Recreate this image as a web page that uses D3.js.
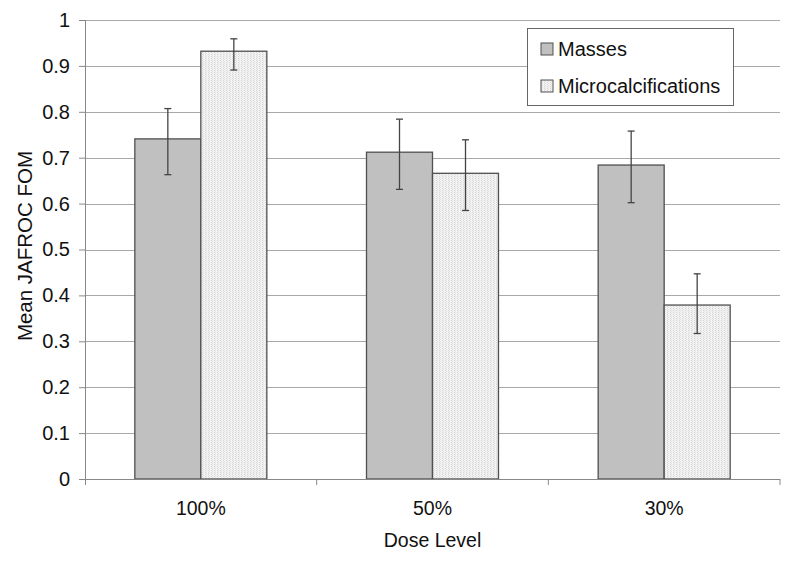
<!DOCTYPE html>
<html>
<head>
<meta charset="utf-8">
<script src="https://cdn.jsdelivr.net/npm/d3@7"></script>
<style>
  body { margin: 0; background: #fff; }
  text { font-family: "Liberation Sans", Arial, sans-serif; fill: #111; }
</style>
</head>
<body>
<div id="chart"></div>
<script>
var doseLevels = ['100%', '50%', '30%'];
var seriesNames = ['Masses', 'Microcalcifications'];
var massesMean = [0.741, 0.712, 0.684];
var massesLow = [0.663, 0.631, 0.602];
var massesHigh = [0.807, 0.784, 0.758];
var microMean = [0.932, 0.666, 0.379];
var microLow = [0.891, 0.585, 0.317];
var microHigh = [0.959, 0.739, 0.447];
var yTicks = [0, 0.1, 0.2, 0.3, 0.4, 0.5, 0.6, 0.7, 0.8, 0.9, 1];

var w = 800
  , h = 562
  , plotLeft = 85
  , plotRight = 780
  , plotTop = 20
  , plotBottom = 479
  , fs = '19.5px'
  ;

var svg = d3.select('#chart').append('svg')
            .attr('width', w).attr('height', h);

// dotted fill for microcalcifications
var pat = svg.append('defs').append('pattern')
  .attr('id', 'dots').attr('patternUnits', 'userSpaceOnUse')
  .attr('width', 3).attr('height', 2);
pat.append('rect').attr('width', 3).attr('height', 2).attr('fill', '#f3f3f3');
pat.append('rect').attr('x', 1).attr('width', 1).attr('height', 1).attr('fill', '#d4d4d4');
pat.append('rect').attr('x', 2).attr('y', 1).attr('width', 1).attr('height', 1).attr('fill', '#e2e2e2');

var y = d3.scaleLinear().domain([0, 1]).range([plotBottom, plotTop]);
var x0 = d3.scaleBand().domain(doseLevels).range([plotLeft, plotRight]);
var x1 = d3.scaleBand().domain(seriesNames).range([0, x0.bandwidth()])
           .paddingInner(0).paddingOuter(0.755);

var rows = [];
doseLevels.forEach(function (d, i) {
  rows.push({ dose: d, s: 'Masses', v: massesMean[i], lo: massesLow[i], hi: massesHigh[i] });
  rows.push({ dose: d, s: 'Microcalcifications', v: microMean[i], lo: microLow[i], hi: microHigh[i] });
});

function cx(d) { return x0(d.dose) + x1(d.s) + x1.bandwidth() / 2; }

// gridlines
svg.append('g').selectAll('line').data(yTicks.filter(function (t) { return t > 0; }))
  .enter().append('line')
  .attr('x1', plotLeft).attr('x2', plotRight)
  .attr('y1', function (d) { return Math.round(y(d)) + 0.5; })
  .attr('y2', function (d) { return Math.round(y(d)) + 0.5; })
  .attr('stroke', '#a8a8a8').attr('stroke-width', 1.2);

// bars
svg.append('g').selectAll('rect').data(rows)
  .enter().append('rect')
  .attr('x', function (d) { return x0(d.dose) + x1(d.s); })
  .attr('y', function (d) { return y(d.v); })
  .attr('width', x1.bandwidth())
  .attr('height', function (d) { return y(0) - y(d.v); })
  .attr('fill', function (d) { return d.s === 'Masses' ? '#c0c0c0' : 'url(#dots)'; })
  .attr('stroke', '#505050').attr('stroke-width', 1.3);

// error bars
var eb = svg.append('g').selectAll('g').data(rows).enter().append('g')
  .attr('stroke', '#444').attr('stroke-width', 1.3);
eb.append('line')
  .attr('x1', cx).attr('x2', cx)
  .attr('y1', function (d) { return y(d.lo); })
  .attr('y2', function (d) { return y(d.hi); });
['lo', 'hi'].forEach(function (k) {
  eb.append('line')
    .attr('x1', function (d) { return cx(d) - 3.5; })
    .attr('x2', function (d) { return cx(d) + 3.5; })
    .attr('y1', function (d) { return y(d[k]); })
    .attr('y2', function (d) { return y(d[k]); });
});

// y axis
var yAxis = svg.append('g').attr('transform', 'translate(' + plotLeft + ',0)')
  .call(d3.axisLeft(y).tickValues(yTicks).tickSize(6).tickPadding(9)
          .tickFormat(function (d) { return d3.format('~g')(d); }));
yAxis.select('.domain').remove();
yAxis.selectAll('line').attr('stroke', '#888');
yAxis.selectAll('text').style('font-size', '20px').attr('fill', '#111')
  .style('font-family', '"Liberation Sans", Arial, sans-serif');
svg.append('line').attr('x1', plotLeft + 0.5).attr('x2', plotLeft + 0.5)
  .attr('y1', plotTop).attr('y2', plotBottom + 6).attr('stroke', '#888');

// x axis
svg.append('line').attr('x1', plotLeft - 6).attr('x2', plotRight)
  .attr('y1', plotBottom + 0.5).attr('y2', plotBottom + 0.5).attr('stroke', '#888');
svg.append('g').selectAll('line').data(doseLevels.slice(1).concat(['end']))
  .enter().append('line')
  .attr('x1', function (d) { return d === 'end' ? plotRight : x0(d); })
  .attr('x2', function (d) { return d === 'end' ? plotRight : x0(d); })
  .attr('y1', plotBottom).attr('y2', plotBottom + 6).attr('stroke', '#888');
svg.append('g').selectAll('text').data(doseLevels)
  .enter().append('text')
  .attr('x', function (d) { return x0(d) + x0.bandwidth() / 2; })
  .attr('y', 515)
  .attr('text-anchor', 'middle')
  .style('font-size', fs)
  .text(function (d) { return d; });

// axis titles
svg.append('text').attr('x', x0('50%') + x0.bandwidth() / 2).attr('y', 547)
  .attr('text-anchor', 'middle').style('font-size', fs).text('Dose Level');
svg.append('text')
  .attr('transform', 'translate(32,246) rotate(-90)')
  .attr('text-anchor', 'middle').style('font-size', '20.5px').text('Mean JAFROC FOM');

// legend
var lg = svg.append('g');
lg.append('rect').attr('x', 527.5).attr('y', 28.5).attr('width', 206).attr('height', 77)
  .attr('fill', '#fff').attr('stroke', '#666');
seriesNames.forEach(function (s, i) {
  var yy = 43 + i * 37;
  lg.append('rect').attr('x', 541).attr('y', yy).attr('width', 12).attr('height', 12)
    .attr('fill', s === 'Masses' ? '#c0c0c0' : 'url(#dots)')
    .attr('stroke', '#505050').attr('stroke-width', 1);
  lg.append('text').attr('x', 558).attr('y', yy + 12.5).style('font-size', '20px').text(s);
});
</script>
</body>
</html>
